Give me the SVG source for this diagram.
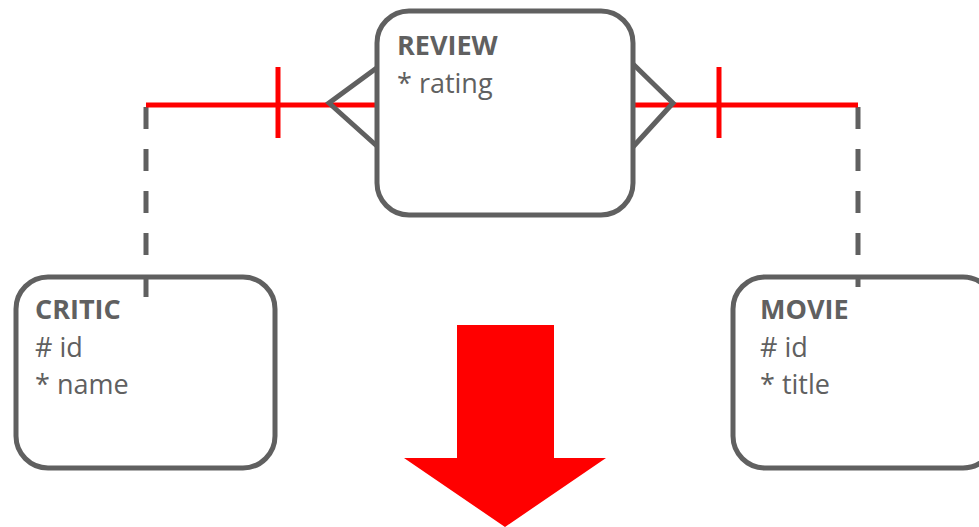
<svg xmlns="http://www.w3.org/2000/svg" width="979" height="527" viewBox="0 0 979 527">
<style>
.box{fill:#fff;stroke:#606060;stroke-width:5}
.t{font-family:"Open Sans","Liberation Sans",sans-serif;font-size:27px;fill:#606060}
.b{font-weight:bold}
.red{stroke:#ff0000;stroke-width:5;fill:none}
.dash{stroke:#606060;stroke-width:5;stroke-dasharray:22 20;fill:none}
.solid{stroke:#606060;stroke-width:5;fill:none}
</style>
<rect width="979" height="527" fill="#fff"/>
<g id="connectors">
<path class="dash" d="M146,107 V297"/>
<path class="dash" d="M858,107 V289"/>
<path class="red" d="M146,105 H378"/>
<path class="red" d="M278,67 V138"/>
<path class="solid" d="M378,67 L329,103 L378,147"/>
<path class="red" d="M632,105 H858"/>
<path class="red" d="M719,67 V138"/>
<path class="solid" d="M632,63 L673,103 L632,148"/>
</g>
<g id="review">
<rect class="box" x="377" y="11" width="256" height="204" rx="32"/>
<text class="t b" x="397" y="55">REVIEW</text>
<text class="t" x="397" y="93">* rating</text>
</g>
<g id="critic">
<rect class="box" x="16" y="277" width="259" height="191" rx="32"/>
<text class="t b" x="35" y="319">CRITIC</text>
<text class="t" x="35" y="357">#&#160;id</text>
<text class="t" x="35" y="394">* name</text>
</g>
<g id="movie">
<rect class="box" x="733" y="277" width="262" height="191" rx="32"/>
<text class="t b" x="760" y="319">MOVIE</text>
<text class="t" x="760" y="357">#&#160;id</text>
<text class="t" x="760" y="394">* title</text>
</g>
<g id="arrow">
<polygon points="457,325 554,325 554,458 606,458 505,527 404,458 457,458" fill="#ff0000"/>
</g>
<path class="solid" d="M146,277 V297"/>
<path class="solid" d="M858,277 V287"/>
</svg>
